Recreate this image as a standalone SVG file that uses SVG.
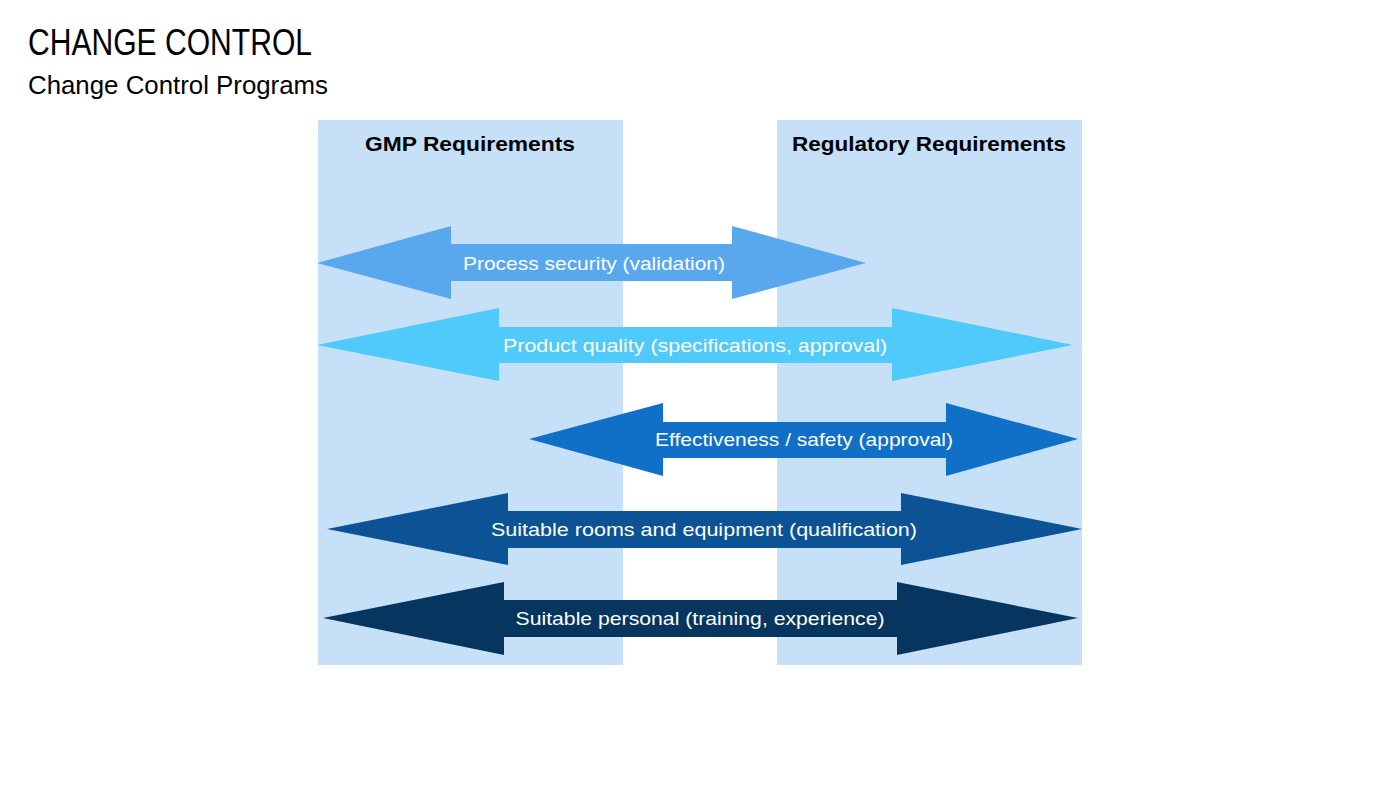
<svg xmlns="http://www.w3.org/2000/svg" width="1400" height="787" viewBox="0 0 1400 787">
<style>
.t{font-family:"Liberation Sans",Arial,sans-serif;fill:#000}
.h{font-family:"Liberation Sans",Arial,sans-serif;font-weight:bold;font-size:21px;fill:#000;text-anchor:middle}
.a{font-family:"Liberation Sans",Arial,sans-serif;font-size:19px;fill:#fff;text-anchor:middle}
.panel{fill:#C6E1F7}
</style>
<rect width="1400" height="787" fill="#fff"/>
<text class="t" x="28" y="55" font-size="37" textLength="284" lengthAdjust="spacingAndGlyphs">CHANGE CONTROL</text>
<text class="t" x="28" y="94" font-size="26" textLength="300" lengthAdjust="spacingAndGlyphs">Change Control Programs</text>
<g id="gmp">
<rect class="panel" x="318" y="120" width="305" height="545"/>
<text class="h" x="470" y="151" textLength="210" lengthAdjust="spacingAndGlyphs">GMP Requirements</text>
</g>
<g id="regulatory">
<rect class="panel" x="777" y="120" width="305" height="545"/>
<text class="h" x="929" y="151" textLength="274" lengthAdjust="spacingAndGlyphs">Regulatory Requirements</text>
</g>
<g id="connectors">
<g id="arrow1">
<polygon fill="#59A8EE" points="317,263 451,226 451,244 732,244 732,226 866,263 732,299 732,281 451,281 451,299"/>
<text class="a" x="594" y="270" textLength="262" lengthAdjust="spacingAndGlyphs">Process security (validation)</text>
</g>
<g id="arrow2">
<polygon fill="#4FCAFB" points="317,345 499,308 499,327 892,327 892,308 1073,345 892,381 892,363 499,363 499,381"/>
<text class="a" x="695" y="352" textLength="384" lengthAdjust="spacingAndGlyphs">Product quality (specifications, approval)</text>
</g>
<g id="arrow3">
<polygon fill="#1070C8" points="529,439 663,403 663,422 946,422 946,403 1078,439 946,476 946,458 663,458 663,476"/>
<text class="a" x="804" y="446" textLength="298" lengthAdjust="spacingAndGlyphs">Effectiveness / safety (approval)</text>
</g>
<g id="arrow4">
<polygon fill="#0C5396" points="327,529 508,493 508,511 901,511 901,493 1082,529 901,565 901,548 508,548 508,565"/>
<text class="a" x="704" y="536" textLength="426" lengthAdjust="spacingAndGlyphs">Suitable rooms and equipment (qualification)</text>
</g>
<g id="arrow5">
<polygon fill="#06365F" points="323,618 504,582 504,600 897,600 897,582 1078,618 897,655 897,637 504,637 504,655"/>
<text class="a" x="700" y="625" textLength="369" lengthAdjust="spacingAndGlyphs">Suitable personal (training, experience)</text>
</g>
</g>
</svg>
